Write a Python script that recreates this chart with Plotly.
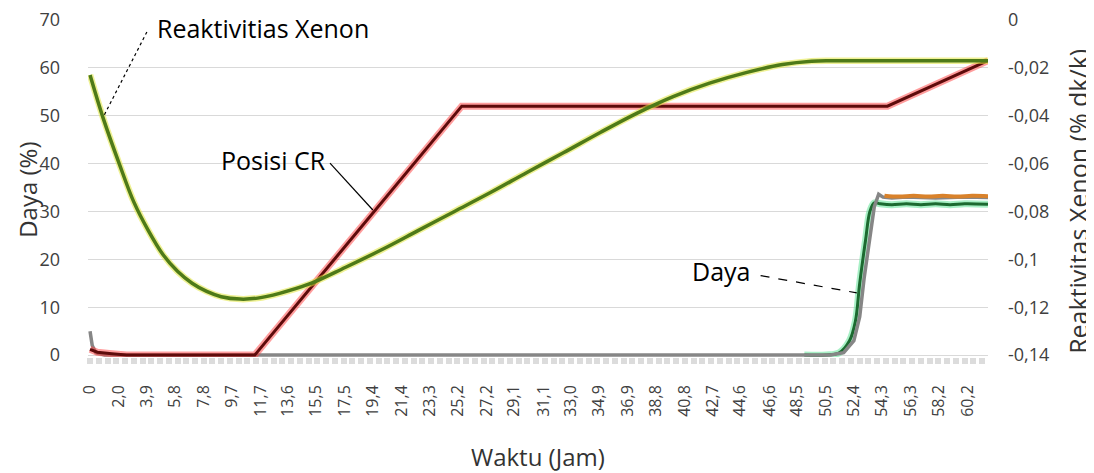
import plotly.graph_objects as go

# ---------------- data ----------------
# x-axis tick labels (Waktu, Jam)
tick_vals = [0, 2.0, 3.9, 5.8, 7.8, 9.7, 11.7, 13.6, 15.5, 17.5, 19.4, 21.4, 23.3, 25.2,
             27.2, 29.1, 31.1, 33.0, 34.9, 36.9, 38.8, 40.8, 42.7, 44.6, 46.6, 48.5,
             50.5, 52.4, 54.3, 56.3, 58.2, 60.2]
tick_text = ["0", "2,0", "3,9", "5,8", "7,8", "9,7", "11,7", "13,6", "15,5", "17,5", "19,4",
             "21,4", "23,3", "25,2", "27,2", "29,1", "31,1", "33,0", "34,9", "36,9", "38,8",
             "40,8", "42,7", "44,6", "46,6", "48,5", "50,5", "52,4", "54,3", "56,3", "58,2",
             "60,2"]

# Reaktivitas Xenon (% dk/k) -> right axis
xe_t = [0, 0.9, 2, 3, 4, 5, 6, 7, 8, 9, 10.3, 11.5, 13, 15, 17.5, 20, 22.5, 25, 27.5, 30,
        32.5, 35, 37.5, 40, 42.5, 45, 47.5, 49.5, 51, 61.6]
xe_v = [-0.023, -0.041, -0.060, -0.076, -0.088, -0.098, -0.105, -0.110, -0.1134, -0.1156,
        -0.1166, -0.1162, -0.1142, -0.1104, -0.1034, -0.096, -0.088, -0.080, -0.072, -0.0636,
        -0.0554, -0.047, -0.039, -0.032, -0.0264, -0.022, -0.0186, -0.0172, -0.017, -0.017]

# Posisi CR (%) -> left axis
cr_t = [0, 0.5, 1.5, 2.5, 11.3, 25.5, 54.7, 61.6]
cr_v = [1.2, 0.6, 0.3, 0, 0, 52, 52, 61.5]

# Daya (%) -> left axis, three traces
daya_g_t = [49.0, 50.5, 51.4, 52.1, 52.5, 52.8, 53.2, 53.5, 53.8, 54.2, 55, 56, 57, 58, 59, 60, 61.6]
daya_g_v = [0, 0, 0.5, 3, 7, 15, 24, 30, 31.8, 31.6, 31.4, 31.6, 31.4, 31.6, 31.4, 31.6, 31.5]

daya_s_t = [0, 0.15, 0.4, 1, 50.8, 51.7, 52.4, 52.8, 53.1, 53.5, 53.8, 54.1, 54.4, 55, 56, 58, 60, 61.6]
daya_s_v = [5, 2, 0.5, 0, 0, 0.5, 3, 8, 16, 25, 31, 33.6, 33.0, 32.8, 33.0, 32.8, 33.0, 32.9]

daya_o_t = [54.5, 55.5, 56.5, 57.5, 58.5, 59.5, 60.5, 61.6]
daya_o_v = [33.3, 33.1, 33.3, 33.1, 33.3, 33.1, 33.3, 33.2]

left_ticks = [0, 10, 20, 30, 40, 50, 60, 70]
right_ticks = [0, -0.02, -0.04, -0.06, -0.08, -0.1, -0.12, -0.14]
right_text = ["0", "-0,02", "-0,04", "-0,06", "-0,08", "-0,1", "-0,12", "-0,14"]

FONT = "Open Sans"

fig = go.Figure()

# Daya (green) underneath
fig.add_trace(go.Scatter(x=daya_g_t, y=daya_g_v, mode="lines", line_shape="spline",
                         line=dict(color="rgba(110,230,160,0.6)", width=7), showlegend=False, hoverinfo="skip"))
fig.add_trace(go.Scatter(x=daya_g_t, y=daya_g_v, mode="lines", line_shape="spline",
                         line=dict(color="#1c6a30", width=3), name="Daya", showlegend=False))
# Daya (gray) - linear so the long flat stretch at 0 does not dip below the axis
fig.add_trace(go.Scatter(x=daya_s_t, y=daya_s_v, mode="lines", line_shape="linear",
                         line=dict(color="#868686", width=3.5), showlegend=False, hoverinfo="skip"))
# Daya (orange)
fig.add_trace(go.Scatter(x=daya_o_t, y=daya_o_v, mode="lines", line_shape="spline",
                         line=dict(color="#d9822b", width=4), showlegend=False, hoverinfo="skip"))

# CR glow + line
fig.add_trace(go.Scatter(x=cr_t, y=cr_v, mode="lines", line=dict(color="rgba(255,60,60,0.5)", width=7),
                         showlegend=False, hoverinfo="skip"))
fig.add_trace(go.Scatter(x=cr_t, y=cr_v, mode="lines", line=dict(color="#5e0b0b", width=3),
                         name="Posisi CR", showlegend=False))

# Xenon (right axis)
fig.add_trace(go.Scatter(x=xe_t, y=xe_v, yaxis="y2", mode="lines", line_shape="spline",
                         line=dict(color="rgba(225,230,60,0.55)", width=6.5), showlegend=False, hoverinfo="skip"))
fig.add_trace(go.Scatter(x=xe_t, y=xe_v, yaxis="y2", mode="lines", line_shape="spline",
                         line=dict(color="#4e7a18", width=3.5), name="Reaktivitas Xenon", showlegend=False))

# leader lines + labels
lines = [
    dict(x0=3.9, y0=67.5, x1=0.9, y1=49.7, dash="dot"),
    dict(x0=16.46, y0=40.1, x1=19.4, y1=30.3, dash="solid"),
    dict(x0=46.0, y0=16.6, x1=52.6, y1=13.0, dash="dash"),
]
for ln in lines:
    fig.add_shape(type="line", xref="x", yref="y", x0=ln["x0"], y0=ln["y0"], x1=ln["x1"], y1=ln["y1"],
                  line=dict(color="black", width=1.2, dash=ln["dash"]))

labels = [
    dict(x=4.46, y=68.3, text="Reaktivitias Xenon", xanchor="left"),
    dict(x=16.3, y=40.7, text="Posisi CR", xanchor="right"),
    dict(x=45.4, y=17.5, text="Daya", xanchor="right"),
]
for lb in labels:
    fig.add_annotation(x=lb["x"], y=lb["y"], xref="x", yref="y", text=lb["text"], showarrow=False,
                       xanchor=lb["xanchor"], yanchor="middle",
                       font=dict(family=FONT, size=25, color="black"))

# axis titles
titles = [
    dict(x=0.5, y=-0.293, text="Waktu (Jam)", angle=0, size=24),
    dict(x=-0.068, y=0.494, text="Daya (%)", angle=-90, size=24),
    dict(x=1.100, y=0.459, text="Reaktivitas Xenon (% dk/k)", angle=-90, size=25),
]
for tt in titles:
    fig.add_annotation(x=tt["x"], y=tt["y"], xref="paper", yref="paper", text=tt["text"],
                       showarrow=False, textangle=tt["angle"], xanchor="center", yanchor="middle",
                       font=dict(family=FONT, size=tt["size"], color="#333333"))

# the page body has an 8px margin, so the figure is 16px smaller and margins shifted by 8px
fig.update_layout(
    width=1086, height=465,
    margin=dict(l=80, r=106, t=11, b=116, autoexpand=False),
    paper_bgcolor="white", plot_bgcolor="white",
    font=dict(family=FONT, color="#404040"),
    showlegend=False,
    xaxis=dict(range=[-0.14, 61.6], tickmode="array", tickvals=tick_vals, ticktext=tick_text,
               tickangle=-90, tickfont=dict(size=16, color="#404040"), showgrid=False, zeroline=False,
               showline=False, ticks="", ticklabelstandoff=24, automargin=False,
               ticklabeloverflow="allow",
               minor=dict(ticks="outside", tickmode="linear", tick0=0, dtick=0.6, ticklen=6,
                          tickwidth=6, tickcolor="#dcdcdc", showgrid=False)),
    yaxis=dict(range=[-0.4, 70.2], tickmode="array", tickvals=left_ticks, showgrid=True,
               gridcolor="#d9d9d9", gridwidth=1, zeroline=False, showline=False, automargin=False,
               ticklabeloverflow="allow",
               tickfont=dict(size=18, color="#404040"), ticklabelstandoff=27),
    yaxis2=dict(range=[-0.1408, 0.0004], overlaying="y", side="right", tickmode="array",
                tickvals=right_ticks, ticktext=right_text, showgrid=False, zeroline=False,
                showline=False, automargin=False, ticklabeloverflow="allow",
                tickfont=dict(size=18, color="#404040"), ticklabelstandoff=19),
)

fig.write_html("out.html")
